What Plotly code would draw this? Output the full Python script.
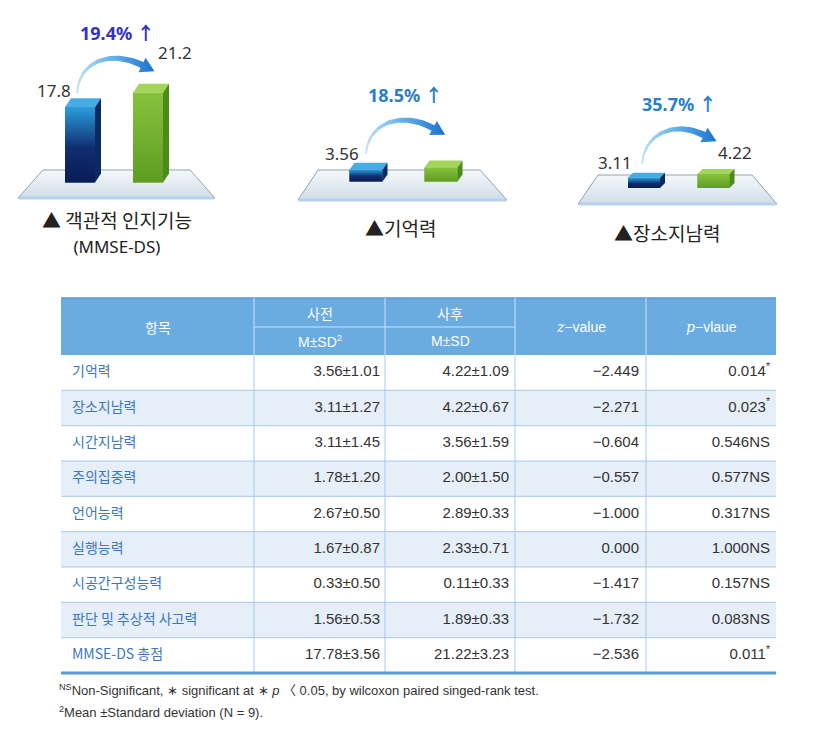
import numpy as np
import plotly.graph_objects as go

W, H = 819, 738

# ---- top panels (사전 / 사후) ----
panel_titles = ["▲ 객관적 인지기능", "▲기억력", "▲장소지남력"]
panel_notes = ["(MMSE-DS)", "", ""]
pre_scores = [17.8, 3.56, 3.11]
post_scores = [21.2, 4.22, 4.22]
post_label_shown = [True, False, True]
change_pct = ["19.4%", "18.5%", "35.7%"]

# ---- table ----
items = ["기억력", "장소지남력", "시간지남력", "주의집중력", "언어능력", "실행능력",
         "시공간구성능력", "판단 및 추상적 사고력", "MMSE-DS 총점"]
pre_mean = [3.56, 3.11, 3.11, 1.78, 2.67, 1.67, 0.33, 1.56, 17.78]
pre_sd = [1.01, 1.27, 1.45, 1.20, 0.50, 0.87, 0.50, 0.53, 3.56]
post_mean = [4.22, 4.22, 3.56, 2.00, 2.89, 2.33, 0.11, 1.89, 21.22]
post_sd = [1.09, 0.67, 1.59, 1.50, 0.33, 0.71, 0.33, 0.33, 3.23]
z_values = [-2.449, -2.271, -0.604, -0.557, -1.000, 0.000, -1.417, -1.732, -2.536]
p_values = [0.014, 0.023, 0.546, 0.577, 0.317, 1.000, 0.157, 0.083, 0.011]
p_flags = ["*", "*", "NS", "NS", "NS", "NS", "NS", "NS", "*"]
footnotes = [
    "<sup>NS</sup>Non-Significant, ∗ significant at ∗ <i>p</i> 〈 0.05, by wilcoxon paired singed-rank test.",
    "<sup>2</sup>Mean ±Standard deviation (N = 9).",
]

KR = "Noto Sans CJK KR"
NUM = "Noto Sans, " + KR
NARROW = "Liberation Sans Narrow, Liberation Sans, " + KR

BLUE, GREEN = "#123a80", "#6fae2c"
FRONT = [[[0, "#0a1c55"], [0.45, "#0f2d70"], [1, "#2b9ddc"]],
         [[0, "#5e9c22"], [1, "#86c33c"]]]
TOP = ["#45ace6", "#a3d55a"]
SIDE = ["#0b2a60", "#4d8a1c"]

# pixel geometry of each panel
panels = [
    dict(c0=80, sp=68, bw=30, base=182.5, scale=4.23, dx=6, dy=9, box=(0, 235, 10, 210),
         plat=[(43, 170), (190, 170), (215, 198), (18, 198)],
         arrow=[(77, 93), (79, 60), (112, 50), (142, 65)],
         pre_lab=(73, 90), post_lab=(156, 52), pct=(117, 33), pct_color="#3232c4",
         title=(117, 232)),
    dict(c0=366, sp=75, bw=33, base=181.5, scale=3.3, dx=5, dy=7, box=(285, 520, 80, 215),
         plat=[(318, 170), (480, 170), (507, 200), (298, 200)],
         arrow=[(366, 154), (368, 122), (402, 111), (433, 128)],
         pre_lab=(361, 153), post_lab=None, pct=(405, 95), pct_color="#2a7fc8",
         title=(400, 227)),
    dict(c0=644, sp=69.5, bw=32, base=188, scale=3.3, dx=5, dy=5, box=(560, 795, 85, 215),
         plat=[(598, 175), (752, 175), (777, 204), (578, 204)],
         arrow=[(642, 164), (644, 134), (674, 120), (704, 135)],
         pre_lab=(634, 162), post_lab=(716, 152), pct=(679, 104), pct_color="#2a7fc8",
         title=(667, 232)),
]


def arrow_polygon(ctrl, w0=1.5, w1=6.5, head_len=14, head_w=8):
    t = np.linspace(0, 1, 40)[:, None]
    p0, p1, p2, p3 = [np.array(q, float) for q in ctrl]
    pts = (1 - t) ** 3 * p0 + 3 * (1 - t) ** 2 * t * p1 + 3 * (1 - t) * t ** 2 * p2 + t ** 3 * p3
    d = 3 * (1 - t) ** 2 * (p1 - p0) + 6 * (1 - t) * t * (p2 - p1) + 3 * t ** 2 * (p3 - p2)
    nrm = np.stack([-d[:, 1], d[:, 0]], axis=1)
    nrm /= np.linalg.norm(nrm, axis=1, keepdims=True)
    w = np.linspace(w0, w1, len(pts))[:, None] / 2
    up, lo = pts + nrm * w, pts - nrm * w
    tan = d[-1] / np.linalg.norm(d[-1])
    end = pts[-1]
    poly = np.vstack([up, end + nrm[-1] * head_w, end + tan * head_len,
                      end - nrm[-1] * head_w, lo[::-1], up[:1]])
    return poly[:, 0], poly[:, 1]


fig = go.Figure()
annotations = []
shapes = []

# canvas axes (pixel coordinates) drawn first: platforms, arrows, table
for i, g in enumerate(panels):
    px_, py_ = zip(*(g["plat"] + g["plat"][:1]))
    fig.add_trace(go.Scatter(x=px_, y=py_, fill="toself", mode="lines",
                             line=dict(color="#8ea3b8", width=1),
                             fillgradient=dict(type="vertical",
                                               colorscale=[[0, "#d2dde8"], [1, "#f4f8fb"]]),
                             hoverinfo="skip", showlegend=False))
    (bl, br) = (g["plat"][3], g["plat"][2])
    fig.add_trace(go.Scatter(x=[bl[0] + 1, br[0] - 1], y=[bl[1], br[1]], mode="lines",
                             line=dict(color="#b6d3ee", width=3),
                             hoverinfo="skip", showlegend=False))
    ax_, ay_ = arrow_polygon(g["arrow"])
    fig.add_trace(go.Scatter(x=ax_, y=ay_, fill="toself", mode="lines", line_width=0,
                             fillgradient=dict(type="horizontal",
                                               colorscale=[[0, "#c0e0f8"], [0.5, "#5cade9"],
                                                           [1, "#1d72cc"]]),
                             hoverinfo="skip", showlegend=False))

# table geometry
col_edges = [61, 254, 385, 515, 646, 776]
hdr_top, hdr_mid, hdr_bot, body_bot = 298, 327, 355, 673
row_h = (body_bot - hdr_bot) / len(items)
row_edges = [hdr_bot + k * row_h for k in range(len(items) + 1)]
row_mid = [hdr_bot + (k + 0.5) * row_h for k in range(len(items))]

fig.add_trace(go.Heatmap(x=[col_edges[0], col_edges[-1]], y=row_edges,
                         z=[[k % 2] for k in range(len(items))],
                         colorscale=[[0, "#ffffff"], [1, "#e6eef8"]], showscale=False,
                         hoverinfo="skip"))

cell_text = [
    items,
    [f"{m:.2f}±{s:.2f}" for m, s in zip(pre_mean, pre_sd)],
    [f"{m:.2f}±{s:.2f}" for m, s in zip(post_mean, post_sd)],
    [f"{z:.3f}".replace("-", "−") for z in z_values],
    [f"{p:.3f}<sup>*</sup>" if f == "*" else f"{p:.3f}{f}" for p, f in zip(p_values, p_flags)],
]
col_anchor = [72, 380, 509, 639, 770]
for c, texts in enumerate(cell_text):
    fig.add_trace(go.Scatter(
        x=[col_anchor[c]] * len(texts), y=row_mid, text=texts, mode="text",
        textposition="middle right" if c == 0 else "middle left",
        textfont=dict(family=KR if c == 0 else NARROW, size=14 if c == 0 else 15,
                      color="#3a78c2" if c == 0 else "#333333"),
        hoverinfo="skip", showlegend=False))

# header
shapes.append(dict(type="rect", xref="x", yref="y", x0=col_edges[0], x1=col_edges[-1],
                   y0=hdr_top, y1=hdr_bot, fillcolor="#6aabe1", line_width=0, layer="below"))
shapes.append(dict(type="line", xref="x", yref="y", x0=col_edges[0], x1=col_edges[-1],
                   y0=hdr_top, y1=hdr_top, line=dict(color="#5a9ad6", width=1.5)))
for xe in col_edges[1:-1]:
    shapes.append(dict(type="line", xref="x", yref="y", x0=xe, x1=xe, y0=hdr_top, y1=hdr_bot,
                       line=dict(color="#cfe3f5", width=1)))
    shapes.append(dict(type="line", xref="x", yref="y", x0=xe, x1=xe, y0=hdr_bot, y1=body_bot,
                       line=dict(color="#a9c9e9", width=1)))
shapes.append(dict(type="line", xref="x", yref="y", x0=col_edges[1], x1=col_edges[3],
                   y0=hdr_mid, y1=hdr_mid, line=dict(color="#cfe3f5", width=1)))
for ye in row_edges[1:-1]:
    shapes.append(dict(type="line", xref="x", yref="y", x0=col_edges[0], x1=col_edges[-1],
                       y0=ye, y1=ye, line=dict(color="#a9c9e9", width=1)))
shapes.append(dict(type="line", xref="x", yref="y", x0=col_edges[0], x1=col_edges[-1],
                   y0=body_bot, y1=body_bot, line=dict(color="#5b9bd5", width=3)))

serif_z = "<span style=\"font-family:'DejaVu Serif'\"><i>z</i></span>−value"
serif_p = "<span style=\"font-family:'DejaVu Serif'\"><i>p</i></span>−vlaue"
centers = [(a + b) / 2 for a, b in zip(col_edges[:-1], col_edges[1:])]
header_cells = [
    (centers[0], (hdr_top + hdr_bot) / 2, "항목"),
    (centers[1], (hdr_top + hdr_mid) / 2, "사전"),
    (centers[2], (hdr_top + hdr_mid) / 2, "사후"),
    (centers[1], (hdr_mid + hdr_bot) / 2, "M±SD<sup>2</sup>"),
    (centers[2], (hdr_mid + hdr_bot) / 2, "M±SD"),
    (centers[3], (hdr_top + hdr_bot) / 2, serif_z),
    (centers[4], (hdr_top + hdr_bot) / 2, serif_p),
]
for hx, hy, ht in header_cells:
    annotations.append(dict(x=hx, y=hy, xref="x", yref="y", text=ht, showarrow=False,
                            font=dict(family=KR if ht in ("항목", "사전", "사후") else NARROW,
                                      size=14, color="white")))

for k, note in enumerate(footnotes):
    annotations.append(dict(x=57, y=690 + 22 * k, xref="x", yref="y", text=note,
                            showarrow=False, xanchor="left",
                            font=dict(family=NARROW, size=13, color="#333333")))

# bar panels
for i, g in enumerate(panels):
    k = i + 2
    xa, ya = f"x{k}", f"y{k}"
    l, r, t, b = g["box"]
    fig.update_layout({
        f"xaxis{k}": dict(domain=[l / W, r / W], visible=False, fixedrange=True, anchor=ya,
                          range=[(l - g["c0"]) / g["sp"], (r - g["c0"]) / g["sp"]]),
        f"yaxis{k}": dict(domain=[1 - b / H, 1 - t / H], visible=False, fixedrange=True,
                          anchor=xa,
                          range=[(g["base"] - b) / g["scale"], (g["base"] - t) / g["scale"]]),
    })
    bw = g["bw"] / g["sp"]
    ddx, ddy = g["dx"] / g["sp"], g["dy"] / g["scale"]
    vals = [pre_scores[i], post_scores[i]]
    fig.add_trace(go.Bar(x=[0, 1], y=vals, width=bw, marker=dict(color=[BLUE, GREEN], line_width=0),
                         xaxis=xa, yaxis=ya, hoverinfo="skip", showlegend=False))
    for j, v in enumerate(vals):
        x0, x1 = j - bw / 2, j + bw / 2
        fig.add_trace(go.Scatter(x=[x0, x1, x1, x0, x0], y=[0, 0, v, v, 0], fill="toself",
                                 mode="lines", line_width=0,
                                 fillgradient=dict(type="vertical", colorscale=FRONT[j]),
                                 xaxis=xa, yaxis=ya, hoverinfo="skip", showlegend=False))
        fig.add_trace(go.Scatter(x=[x0, x1, x1 + ddx, x0 + ddx, x0],
                                 y=[v, v, v + ddy, v + ddy, v], fill="toself",
                                 fillcolor=TOP[j], mode="lines", line_width=0,
                                 xaxis=xa, yaxis=ya, hoverinfo="skip", showlegend=False))
        fig.add_trace(go.Scatter(x=[x1, x1 + ddx, x1 + ddx, x1, x1],
                                 y=[0, ddy, v + ddy, v, 0], fill="toself",
                                 fillcolor=SIDE[j], mode="lines", line_width=0,
                                 xaxis=xa, yaxis=ya, hoverinfo="skip", showlegend=False))

    lx, ly = g["pre_lab"]
    annotations.append(dict(x=lx, y=ly, xref="x", yref="y", text=f"{pre_scores[i]:g}",
                            xanchor="right", showarrow=False,
                            font=dict(family=NUM, size=17, color="#333333")))
    if post_label_shown[i]:
        lx, ly = g["post_lab"]
        annotations.append(dict(x=lx, y=ly, xref="x", yref="y", text=f"{post_scores[i]:g}",
                                xanchor="left", showarrow=False,
                                font=dict(family=NUM, size=17, color="#333333")))
    cx, cy = g["pct"]
    annotations.append(dict(x=cx, y=cy, xref="x", yref="y", text=f"{change_pct[i]} ↑",
                            showarrow=False,
                            font=dict(family=NUM, size=18, weight="bold", color=g["pct_color"])))
    title = panel_titles[i]
    if panel_notes[i]:
        title += ("<br><span style=\"font-family:'Noto Sans';font-size:17px\">"
                  + panel_notes[i] + "</span>")
    tx, ty = g["title"]
    annotations.append(dict(x=tx, y=ty, xref="x", yref="y", text=title,
                            showarrow=False, font=dict(family=KR, size=19, color="#222222")))

fig.update_layout(
    width=W, height=H, margin=dict(l=0, r=0, t=0, b=0),
    paper_bgcolor="white", plot_bgcolor="rgba(0,0,0,0)",
    xaxis=dict(domain=[0, 1], range=[0, W], visible=False, fixedrange=True),
    yaxis=dict(domain=[0, 1], range=[H, 0], visible=False, fixedrange=True),
    showlegend=False, hovermode=False,
    shapes=shapes, annotations=annotations,
)

fig.write_html("out.html", config={"displayModeBar": False},
               post_script="document.body.style.margin='0';")
